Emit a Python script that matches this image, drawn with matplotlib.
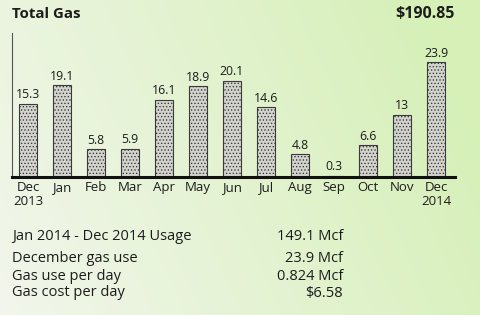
import numpy as np
import matplotlib.pyplot as plt
from matplotlib.colors import to_rgb

plt.rcParams['font.family'] = ['Open Sans', 'DejaVu Sans']
plt.rcParams['hatch.color'] = '#858580'
plt.rcParams['hatch.linewidth'] = 0.6

# ── Dados ────────────────────────────────────────────────────────────────────
months = ["Dec\n2013", "Jan", "Feb", "Mar", "Apr", "May", "Jun",
          "Jul", "Aug", "Sep", "Oct", "Nov", "Dec\n2014"]
usage = [15.3, 19.1, 5.8, 5.9, 16.1, 18.9, 20.1, 14.6, 4.8, 0.3, 6.6, 13, 23.9]
bar_labels = ["15.3", "19.1", "5.8", "5.9", "16.1", "18.9", "20.1",
              "14.6", "4.8", "0.3", "6.6", "13", "23.9"]
total_cost = "$190.85"
summary_names = ["Jan 2014 - Dec 2014 Usage", "December gas use",
                 "Gas use per day", "Gas cost per day"]
summary_values = ["149.1 Mcf", "23.9 Mcf", "0.824 Mcf", "$6.58"]

TEXT = "#1c1c1c"

fig = plt.figure(figsize=(4.8, 3.15), dpi=100)

# fundo em degradê verde
bg = fig.add_axes([0, 0, 1, 1], zorder=-10)
xx, yy = np.meshgrid(np.linspace(0, 1, 200), np.linspace(0, 1, 130))
c_left = np.array(to_rgb("#f2f6ec"))
c_right = np.array(to_rgb("#d6f0b8"))
t = np.clip(xx * 0.85 + (1 - yy) * 0.25, 0, 1)[..., None]
img = c_left * (1 - t) + c_right * t
bg.imshow(img, aspect='auto', extent=[0, 1, 0, 1], origin='upper')
bg.axis('off')

ax = fig.add_axes([0.025, 0.438, 0.923, 0.457])
ax.patch.set_alpha(0)
x = np.arange(len(usage))
ax.bar(x, usage, width=0.53, color="#d4d4cf", edgecolor="#3a3a3a",
       linewidth=0.8, hatch='.....')
for xi, v, lab in zip(x, usage, bar_labels):
    ax.text(xi, v + 0.5, lab, ha='center', va='bottom', fontsize=8.8, color=TEXT)

ax.set_xlim(-0.47, 12.56)
ax.set_ylim(0, 30)
ax.set_yticks([])
ax.set_xticks(x)
ax.set_xticklabels(months, fontsize=9.5, color=TEXT, linespacing=1.05)
ax.tick_params(axis='x', length=0, pad=3)
for s in ['top', 'right']:
    ax.spines[s].set_visible(False)
ax.spines['left'].set_linewidth(0.8)
ax.spines['left'].set_color("#555555")
ax.spines['bottom'].set_linewidth(2.2)
ax.spines['bottom'].set_color("#111111")

fig.text(0.025, 0.955, "Total Gas", fontsize=10.8, fontweight='bold',
         color=TEXT, va='center', ha='left')
fig.text(0.948, 0.955, total_cost, fontsize=11.5, fontweight='bold',
         color=TEXT, va='center', ha='right')

rows_y = [236, 259, 276, 293]
for yp, name, val in zip(rows_y, summary_names, summary_values):
    fig.text(12 / 480, 1 - yp / 315, name, fontsize=10.5, color=TEXT,
             va='center', ha='left')
    fig.text(343 / 480, 1 - yp / 315, val, fontsize=10.5, color=TEXT,
             va='center', ha='right')

fig.savefig("out.png", dpi=100)
